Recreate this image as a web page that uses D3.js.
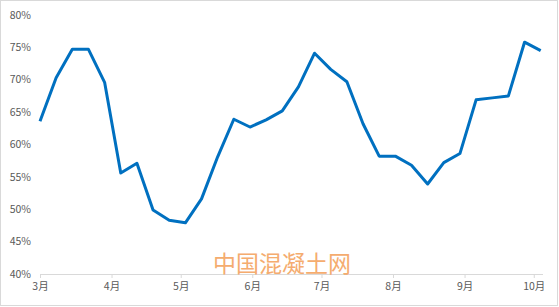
<!DOCTYPE html>
<html><head><meta charset="utf-8">
<script src="https://cdn.jsdelivr.net/npm/d3@7"></script>
<style>body{margin:0;background:#fff}svg{display:block}</style>
</head><body>
<script>
const startDate = "2017-03-01";
const weeks = d3.range(32);
const values = [63.6,70.3,74.7,74.7,69.6,55.6,57.1,49.9,48.3,47.9,51.6,58.1,63.9,62.7,63.8,65.2,68.9,74.1,71.6,69.7,63.2,58.2,58.2,56.8,53.9,57.2,58.6,66.9,67.2,67.5,75.8,74.5];
const yTicks = [40,45,50,55,60,65,70,75,80];
const monthTicks = ["2017-03-01","2017-04-01","2017-05-01","2017-06-01","2017-07-01","2017-08-01","2017-09-01","2017-10-01"];
const monthLabels = ["3月","4月","5月","6月","7月","8月","9月","10月"];

const W=559,H=307;
const svg=d3.select("body").append("svg").attr("width",W).attr("height",H);
svg.append("rect").attr("x",0.5).attr("y",0.5).attr("width",W-2).attr("height",H-2)
  .attr("fill","#fff").attr("stroke","#d9d9d9");

const parse=d3.timeParse("%Y-%m-%d");
const t0=parse(startDate);
const dates=weeks.map(i=>d3.timeDay.offset(t0,i*7));
const x=d3.scaleTime().domain([t0,d3.timeDay.offset(t0,218)]).range([40,543]);
const y=d3.scaleLinear().domain([40,80]).range([274,15]);

const font="'Microsoft YaHei','Noto Sans CJK SC','Noto Sans',sans-serif";
// y labels
svg.append("g").selectAll("text").data(yTicks).join("text")
  .attr("x",31).attr("y",d=>y(d)).attr("dy","0.35em").attr("text-anchor","end")
  .attr("font-family",font).attr("font-size",10.5).attr("fill","#595959")
  .text(d=>d+"%");

// x axis
const xa=svg.append("g").attr("transform","translate(0,274)")
  .call(d3.axisBottom(x).tickValues(monthTicks.map(parse)).tickSize(4)
    .tickFormat((d,i)=>monthLabels[i]));
xa.select(".domain").attr("stroke","#d9d9d9").attr("d","M40,0.5H543");
xa.selectAll(".tick line").attr("stroke","#d9d9d9");
xa.selectAll(".tick text").attr("font-family",font).attr("font-size",10.5).attr("fill","#595959").attr("dy","0.9em");

// watermark
svg.append("text").attr("x",282).attr("y",272).attr("text-anchor","middle")
  .attr("font-family",font).attr("font-size",23).attr("fill","#f4a460").attr("opacity",0.9)
  .text("中国混凝土网");

// line
svg.append("path").datum(values)
  .attr("fill","none").attr("stroke","#0070c0").attr("stroke-width",3).attr("stroke-linejoin","round")
  .attr("d",d3.line().x((d,i)=>x(dates[i])).y(d=>y(d)));
</script>
</body></html>
